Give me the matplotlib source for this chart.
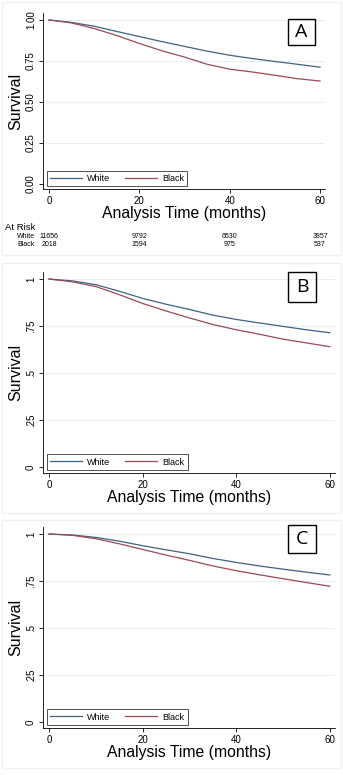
import numpy as np
import matplotlib
matplotlib.use('Agg')
import matplotlib.pyplot as plt
from matplotlib.patches import Rectangle

plt.rcParams['font.family'] = ['Liberation Sans', 'DejaVu Sans']

# survival estimates (every 5 months)
months = [0, 5, 10, 15, 20, 25, 30, 35, 40, 45, 50, 55, 60]
a_white = [1.0, 0.985, 0.962, 0.930, 0.899, 0.868, 0.839, 0.810, 0.785, 0.765, 0.747, 0.730, 0.712]
a_black = [1.0, 0.982, 0.948, 0.905, 0.857, 0.812, 0.774, 0.730, 0.700, 0.683, 0.663, 0.642, 0.628]
b_white = [1.0, 0.990, 0.970, 0.935, 0.897, 0.866, 0.838, 0.808, 0.785, 0.766, 0.748, 0.730, 0.714]
b_black = [1.0, 0.985, 0.960, 0.917, 0.870, 0.830, 0.793, 0.758, 0.730, 0.706, 0.680, 0.660, 0.640]
c_white = [1.0, 0.995, 0.982, 0.962, 0.938, 0.916, 0.895, 0.870, 0.849, 0.830, 0.813, 0.797, 0.782]
c_black = [1.0, 0.993, 0.975, 0.948, 0.918, 0.888, 0.860, 0.830, 0.805, 0.783, 0.762, 0.742, 0.722]

# number at risk for panel A
risk_times = [0, 20, 40, 60]
risk_white = [11656, 9792, 6530, 3857]
risk_black = [2018, 1594, 975, 537]

W, H = 343, 775
WHITE_C = '#3e6282'
BLACK_C = '#9a4a55'
GRID_C = '#e6eeef'

fig = plt.figure(figsize=(W / 100, H / 100), dpi=100)
fig.patch.set_facecolor('white')


def px_axes(left, top, right, bottom):
    # axes from pixel box (origin top-left)
    return fig.add_axes([left / W, 1 - bottom / H, (right - left) / W, (bottom - top) / H])


def panel(box, white, black, letter, ylabels, xlim, ylim, letter_box):
    ax = px_axes(*box)
    ax.plot(months, white, color=WHITE_C, lw=0.9, label='White')
    ax.plot(months, black, color=BLACK_C, lw=0.9, label='Black')
    ax.set_xlim(*xlim)
    ax.set_ylim(*ylim)
    ax.set_xticks([0, 20, 40, 60])
    ax.set_yticks([0, 0.25, 0.5, 0.75, 1])
    ax.set_yticklabels(ylabels, rotation=90, va='center')
    for y in [0.25, 0.5, 0.75, 1]:
        ax.axhline(y, color=GRID_C, lw=0.7, zorder=0)
    for s in ['top', 'right']:
        ax.spines[s].set_visible(False)
    for s in ['left', 'bottom']:
        ax.spines[s].set_linewidth(0.6)
    ax.tick_params(labelsize=7, width=0.6, length=3, pad=2)
    ax.set_ylabel('Survival', fontsize=11.5, labelpad=2)
    ax.set_xlabel('Analysis Time (months)', fontsize=11.3, labelpad=0)
    leg = ax.legend(loc='lower left', ncol=2, fontsize=6.5, frameon=True,
                    fancybox=False, edgecolor='black', handlelength=3.6,
                    handletextpad=0.55, columnspacing=1.6, borderpad=0.35,
                    borderaxespad=0.25, bbox_to_anchor=(0.005, 0.005))
    leg.get_frame().set_linewidth(0.6)
    # panel letter in a box
    l, t, r, b = letter_box
    fig.patches.append(Rectangle((l / W, 1 - b / H), (r - l) / W, (b - t) / H,
                                 transform=fig.transFigure, fill=False,
                                 edgecolor='black', lw=1.0))
    fig.text((l + r) / 2 / W, 1 - (t + b) / 2 / H, letter, fontsize=14,
             ha='center', va='center', family=['Open Sans', 'DejaVu Sans'])
    return ax


def frame(top, bottom):
    fig.patches.append(Rectangle((2 / W, 1 - bottom / H), (W - 4) / W, (bottom - top) / H,
                                 transform=fig.transFigure, fill=False,
                                 edgecolor='#f0f0f0', lw=1.0))


frame(2, 255)
frame(263, 513)
frame(520, 768)

axA = panel((43, 13.4, 325, 189), a_white, a_black, 'A',
            ['0.00', '0.25', '0.50', '0.75', '1.00'],
            (-1.33, 61.1), (-0.03, 1.04), (288, 19, 315, 45))
axB = panel((43, 271.5, 335, 473), b_white, b_black, 'B',
            ['0', '.25', '.5', '.75', '1'],
            (-1.28, 61.1), (-0.032, 1.04), (288, 272, 316, 302))
axC = panel((43, 526.5, 335, 728), c_white, c_black, 'C',
            ['0', '.25', '.5', '.75', '1'],
            (-1.28, 61.1), (-0.032, 1.04), (288, 525, 316, 553))

# at-risk table under panel A
fig.text(5 / W, 1 - 228 / H, 'At Risk', fontsize=6.8, va='center', ha='left')
fig.text(35 / W, 1 - 237 / H, 'White', fontsize=5, va='center', ha='right')
fig.text(35 / W, 1 - 245 / H, 'Black', fontsize=5, va='center', ha='right')
for t, w, b in zip(risk_times, risk_white, risk_black):
    xf = axA.transData.transform((t, 0))[0] / fig.bbox.width
    fig.text(xf, 1 - 237 / H, str(w), fontsize=5, va='center', ha='center')
    fig.text(xf, 1 - 245 / H, str(b), fontsize=5, va='center', ha='center')

plt.savefig('out.png', dpi=100)
